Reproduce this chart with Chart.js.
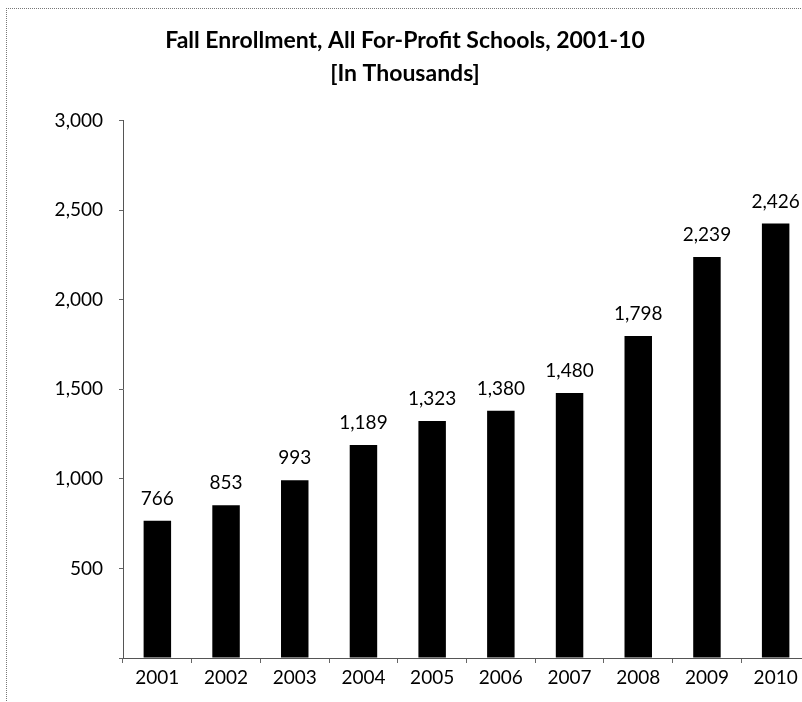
<!DOCTYPE html>
<html>
<head>
<meta charset="utf-8">
<script src="https://cdn.jsdelivr.net/npm/chart.js@4.4.1/dist/chart.umd.min.js"></script>
<style>
    html, body { margin:0; padding:0; background:#fff; overflow:hidden; }
    #marco {
        position:absolute; left:6px; top:8px; width:900px; height:800px;
        border-left:1px dotted #777; border-top:1px dotted #777;
    }
    #contenedor { position:absolute; left:0; top:0; width:820px; height:702px; }
</style>
</head>
<body>
<div id="marco"></div>
<div id="contenedor"><canvas id="grafica"></canvas></div>
<script>
// matricula de otoño, escuelas con fines de lucro (miles)
var anios = ['2001','2002','2003','2004','2005','2006','2007','2008','2009','2010'];
var matricula = [766, 853, 993, 1189, 1323, 1380, 1480, 1798, 2239, 2426];
var titulo = ['Fall Enrollment, All For-Profit Schools, 2001-10', '[In Thousands]'];
var ejeYMin = 0;
var ejeYMax = 3000;
var ejeYPaso = 500;

const fuente = 'Lato, "Open Sans", sans-serif';

// etiquetas de valor encima de cada barra
const etiquetasBarras = {
    id: 'etiquetasBarras',
    afterDatasetsDraw(chart){
        var ctx = chart.ctx;
        var meta = chart.getDatasetMeta(0);
        ctx.save();
        ctx.font = '19px ' + fuente;
        ctx.fillStyle = '#000';
        ctx.textAlign = 'center';
        ctx.textBaseline = 'alphabetic';
        for (var i = 0; i < meta.data.length; i++){
            var barra = meta.data[i];
            ctx.fillText(matricula[i].toLocaleString('en-US'), barra.x, barra.y - 16);
        }
        ctx.restore();
    }
};

var ctx = document.getElementById('grafica').getContext('2d');
var myChart = new Chart(ctx, {
    type: 'bar',
    data: {
        labels: anios,
        datasets: [{
            label: 'Enrollment',
            data: matricula,
            backgroundColor: '#000',
            borderWidth: 0,
            barPercentage: 0.4,
            categoryPercentage: 1.0
        }]
    },
    options: {
        responsive: true,
        maintainAspectRatio: false,
        animation: false,
        layout: { padding: { left: 0, right: 10, top: 0, bottom: 0 } },
        scales: {
            x: {
                offset: true,
                grid: { offset: true, drawOnChartArea: false, drawTicks: true, tickLength: 5, color: '#666' },
                border: { display: true, color: '#555', width: 1 },
                ticks: { color: '#000', font: { family: fuente, size: 19 }, padding: 3 },
                afterFit: function(scale){ scale.height = 44; }
            },
            y: {
                min: ejeYMin,
                max: ejeYMax,
                grid: { drawOnChartArea: false, drawTicks: true, tickLength: 4, color: '#666' },
                border: { display: true, color: '#555', width: 1 },
                ticks: {
                    stepSize: ejeYPaso,
                    color: '#000',
                    padding: 16,
                    font: { family: fuente, size: 19 },
                    callback: function(value){
                        return value === 0 ? '' : value.toLocaleString('en-US');
                    }
                },
                afterFit: function(scale){ scale.width = 123; }
            }
        },
        plugins: {
            legend: { display: false },
            tooltip: { enabled: false },
            title: {
                display: true,
                text: titulo,
                color: '#000',
                font: { family: fuente, size: 23, weight: 'bold', lineHeight: 1.45 },
                padding: { top: 24, bottom: 30 }
            }
        }
    },
    plugins: [etiquetasBarras]
});
</script>
</body>
</html>
